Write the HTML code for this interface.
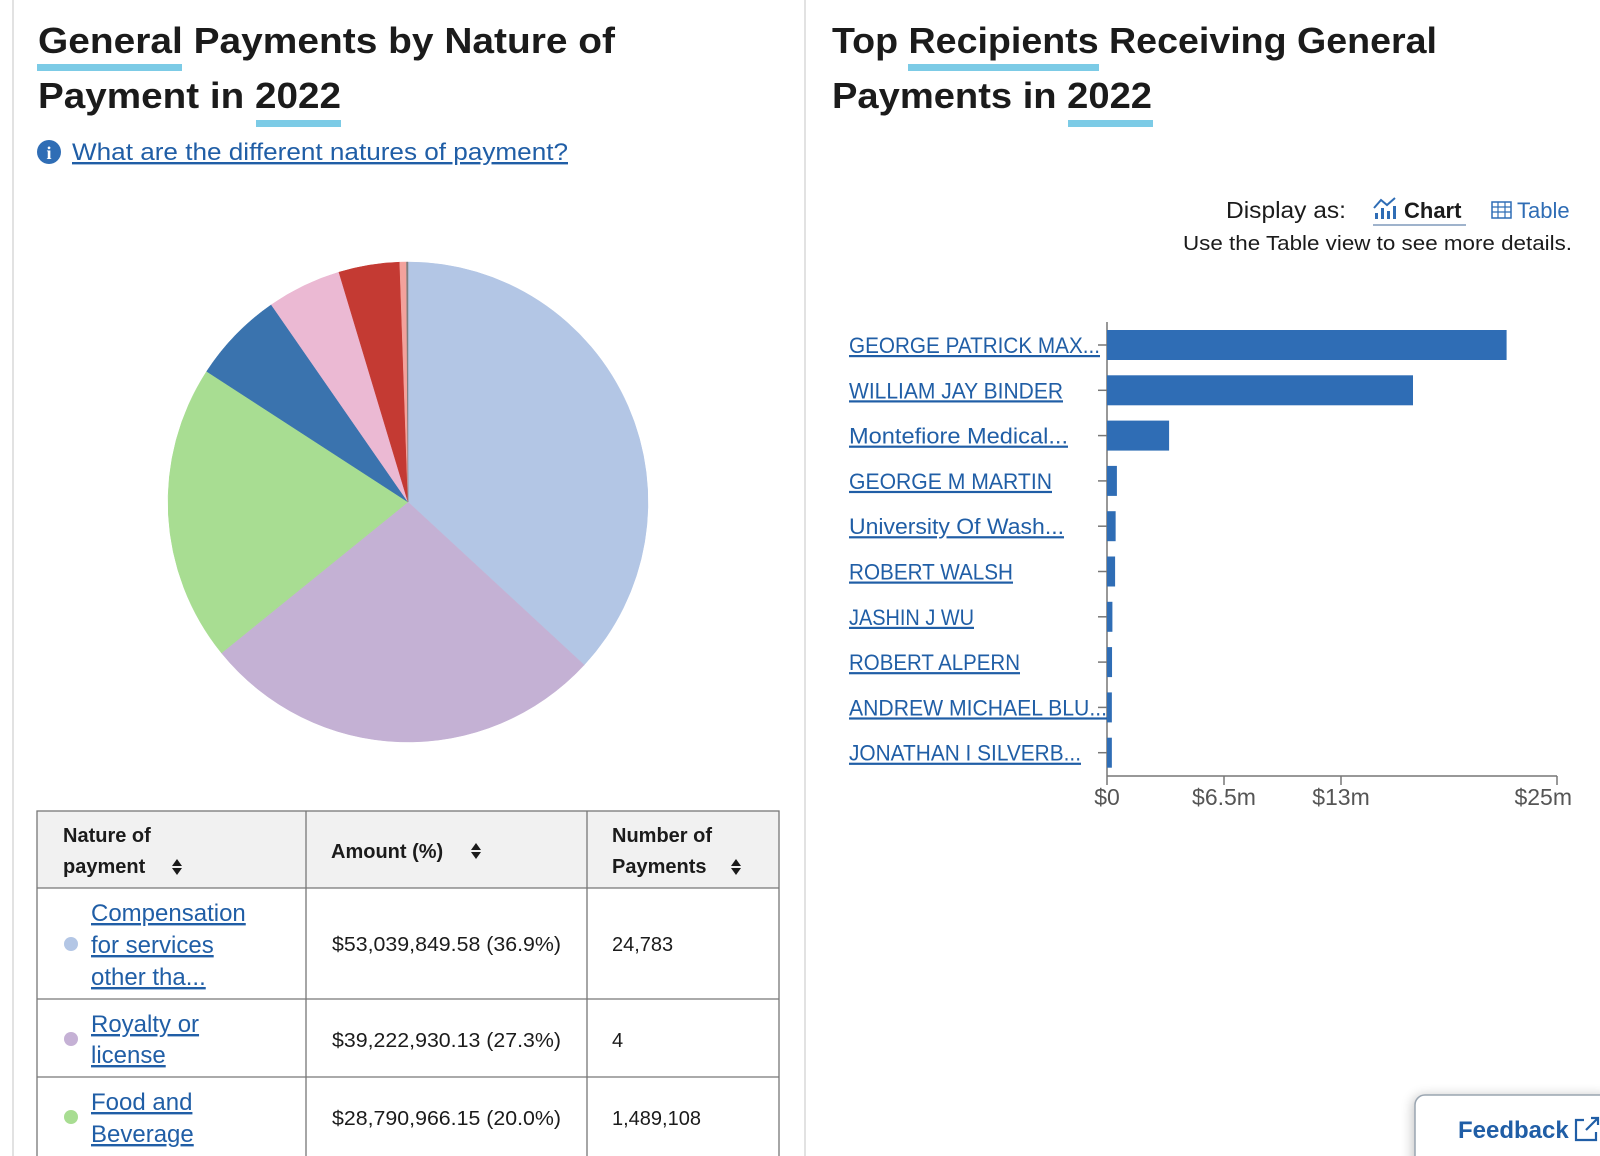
<!DOCTYPE html>
<html><head><meta charset="utf-8">
<style>
html,body{margin:0;padding:0;background:#fff;width:1600px;height:1156px;overflow:hidden;font-family:"Liberation Sans",sans-serif;}
svg{display:block}
.t{font-weight:bold;fill:#1b1b1b;font-size:36px}
.lnk{fill:#205ea6;text-decoration:underline}
.hd{font-weight:bold;fill:#1b1b1b;font-size:20px}
.cell{fill:#1b1b1b;font-size:20px}
</style></head><body>
<svg id="page" width="1600" height="1156" viewBox="0 0 1600 1156">
  <line x1="13" y1="0" x2="13" y2="1156" stroke="#e2e2e2" stroke-width="2"/>
  <line x1="805" y1="0" x2="805" y2="1156" stroke="#e2e2e2" stroke-width="2"/>

  <text class="t" x="38" y="53" textLength="577" lengthAdjust="spacingAndGlyphs">General Payments by Nature of</text>
  <text class="t" x="38" y="108" textLength="303" lengthAdjust="spacingAndGlyphs">Payment in 2022</text>
  <rect x="37" y="64" width="145" height="7" fill="#7ccbe6"/>
  <rect x="256" y="120" width="85" height="7" fill="#7ccbe6"/>
  <g>
    <circle cx="49" cy="152" r="12" fill="#2f6db5"/>
    <text x="49" y="159" fill="#fff" font-size="18" font-weight="bold" text-anchor="middle" font-family="Liberation Serif, serif">i</text>
    <text class="lnk" x="72" y="160" font-size="24" textLength="496" lengthAdjust="spacingAndGlyphs">What are the different natures of payment?</text>
  </g>

  <g id="pie"></g>

  <g>
    <rect x="37" y="811" width="742" height="77" fill="#f1f1f1"/>
    <rect x="37" y="811" width="742" height="360" fill="none" stroke="#777" stroke-width="1.3"/>
    <line x1="37" y1="888" x2="779" y2="888" stroke="#777" stroke-width="1.3"/>
    <line x1="37" y1="999" x2="779" y2="999" stroke="#777" stroke-width="1.3"/>
    <line x1="37" y1="1077" x2="779" y2="1077" stroke="#777" stroke-width="1.3"/>
    <line x1="306" y1="811" x2="306" y2="1156" stroke="#777" stroke-width="1.3"/>
    <line x1="587" y1="811" x2="587" y2="1156" stroke="#777" stroke-width="1.3"/>
    <g>
      <text class="hd" x="63" y="842">Nature of</text>
      <text class="hd" x="63" y="873">payment</text>
      <path d="M172 866 l5 -7 l5 7 z M172 868 l5 7 l5 -7 z" fill="#1b1b1b"/>
    </g>
    <g>
      <text class="hd" x="331" y="858">Amount (%)</text>
      <path d="M471 850 l5 -7 l5 7 z M471 852 l5 7 l5 -7 z" fill="#1b1b1b"/>
    </g>
    <g>
      <text class="hd" x="612" y="842">Number of</text>
      <text class="hd" x="612" y="873">Payments</text>
      <path d="M731 866 l5 -7 l5 7 z M731 868 l5 7 l5 -7 z" fill="#1b1b1b"/>
    </g>
    <g>
      <circle cx="71" cy="944" r="7" fill="#b3c6e5"/>
      <text class="lnk" font-size="24" x="91" y="921">Compensation</text>
      <text class="lnk" font-size="24" x="91" y="953">for services</text>
      <text class="lnk" font-size="24" x="91" y="985">other tha...</text>
      <text class="cell" x="332" y="951" textLength="229" lengthAdjust="spacingAndGlyphs">$53,039,849.58 (36.9%)</text>
      <text class="cell" x="612" y="951">24,783</text>
    </g>
    <g>
      <circle cx="71" cy="1039" r="7" fill="#c5b1d5"/>
      <text class="lnk" font-size="24" x="91" y="1032">Royalty or</text>
      <text class="lnk" font-size="24" x="91" y="1063">license</text>
      <text class="cell" x="332" y="1047" textLength="229" lengthAdjust="spacingAndGlyphs">$39,222,930.13 (27.3%)</text>
      <text class="cell" x="612" y="1047">4</text>
    </g>
    <g>
      <circle cx="71" cy="1117" r="7" fill="#a8dd92"/>
      <text class="lnk" font-size="24" x="91" y="1110">Food and</text>
      <text class="lnk" font-size="24" x="91" y="1142">Beverage</text>
      <text class="cell" x="332" y="1125" textLength="229" lengthAdjust="spacingAndGlyphs">$28,790,966.15 (20.0%)</text>
      <text class="cell" x="612" y="1125">1,489,108</text>
    </g>
  </g>

  <text class="t" x="832" y="53" textLength="605" lengthAdjust="spacingAndGlyphs">Top Recipients Receiving General</text>
  <text class="t" x="832" y="108" textLength="320" lengthAdjust="spacingAndGlyphs">Payments in 2022</text>
  <rect x="908" y="64" width="191" height="7" fill="#7ccbe6"/>
  <rect x="1068" y="120" width="85" height="7" fill="#7ccbe6"/>

  <text x="1346" y="218" font-size="23" fill="#1b1b1b" text-anchor="end" textLength="120" lengthAdjust="spacingAndGlyphs">Display as:</text>
  <g>
    <g fill="#2f6db5"><rect x="1375" y="213" width="3" height="6"/><rect x="1381" y="208" width="3" height="11"/><rect x="1387" y="211" width="3" height="8"/><rect x="1393" y="206" width="3" height="13"/></g>
    <polyline points="1374,208 1381,200 1387,205 1395,198" fill="none" stroke="#2f6db5" stroke-width="2"/>
    <text x="1404" y="218" font-size="22" font-weight="bold" fill="#1b1b1b">Chart</text>
    <rect x="1373" y="224" width="93" height="2" fill="#9fb3cc"/>
  </g>
  <g>
    <rect x="1492" y="202" width="19" height="16" fill="none" stroke="#2f6db5" stroke-width="1.5"/>
    <path d="M1492 207h19M1492 212h19M1498 202v16M1505 202v16" stroke="#2f6db5" stroke-width="1.2"/>
    <text x="1517" y="218" font-size="22" fill="#2f6db5">Table</text>
  </g>
  <text x="1183" y="250" font-size="20" fill="#1b1b1b" textLength="389" lengthAdjust="spacingAndGlyphs">Use the Table view to see more details.</text>

  <g id="bars"></g>

  <g>
    <defs><filter id="sh" x="-20%" y="-40%" width="140%" height="180%"><feGaussianBlur stdDeviation="6"/></filter></defs>
    <rect x="1413" y="1096" width="200" height="80" rx="10" fill="#000" opacity="0.25" filter="url(#sh)"/>
    <rect x="1415" y="1095" width="200" height="80" rx="10" fill="#fff" stroke="#9aa5b1" stroke-width="1.5"/>
    <text x="1458" y="1138" font-size="24" font-weight="bold" fill="#205ea6">Feedback</text>
    <path d="M1584 1120 h-8 v20 h20 v-8 M1586 1130 l12 -12 M1591 1118 h7 v7" fill="none" stroke="#205ea6" stroke-width="2.2"/>
  </g>
</svg>
<script>
const pieLabels = ["Compensation for services other than consulting","Royalty or license","Food and Beverage","Consulting Fee","Travel and Lodging","Education","Honoraria","Other"];
const pieValues = [36.9, 27.3, 20.0, 6.2, 5.0, 4.1, 0.45, 0.1];
const pieColors = ["#b3c6e5","#c4b1d4","#a8dd92","#3a73ae","#ebb9d3","#c43a33","#f3a29c","#7f7f7f"];

const barNames = ["GEORGE PATRICK MAX...","WILLIAM JAY BINDER","Montefiore Medical...","GEORGE M MARTIN","University Of Wash...","ROBERT WALSH","JASHIN J WU","ROBERT ALPERN","ANDREW MICHAEL BLU...","JONATHAN I SILVERB..."];
const barValues = [22.2, 17.0, 3.45, 0.55, 0.48, 0.45, 0.3, 0.28, 0.27, 0.27];
const tickValues = [0, 6.5, 13, 25];
const tickLabels = ["$0","$6.5m","$13m","$25m"];

const NS = "http://www.w3.org/2000/svg";
function mk(tag, attrs, parent){const e=document.createElementNS(NS,tag);for(const k in attrs)e.setAttribute(k,attrs[k]);parent.appendChild(e);return e;}

const pie = document.getElementById("pie");
const cx=408, cy=502, R=240;
const total = pieValues.reduce((a,b)=>a+b,0);
let acc=0;
pieValues.forEach((v,i)=>{
  const a0 = acc/total*2*Math.PI; acc+=v; const a1 = acc/total*2*Math.PI;
  const x0=cx+R*Math.sin(a0), y0=cy-R*Math.cos(a0), x1=cx+R*Math.sin(a1), y1=cy-R*Math.cos(a1);
  const large = (a1-a0)>Math.PI?1:0;
  const p = mk("path",{d:`M${cx},${cy} L${x0},${y0} A${R},${R} 0 ${large} 1 ${x1},${y1} Z`,fill:pieColors[i],stroke:pieColors[i],"stroke-width":0.5},pie);
  
  
});

const bars = document.getElementById("bars");
const x0=1107, pxPer=18, yFirst=345, step=45.3, bh=30;
const xs = v => x0 + v*pxPer;
const ys = i => yFirst + i*step;
const axisY = 776;
const yAxis = mk("line",{x1:x0,y1:322,x2:x0,y2:axisY,stroke:"#777","stroke-width":1.5},bars);


const xAxis = mk("line",{x1:x0,y1:axisY,x2:xs(25),y2:axisY,stroke:"#777","stroke-width":1.5},bars);


const labelW = [251,214,219,203,215,164,125,171,258,232];
barValues.forEach((v,i)=>{
  const y = ys(i);
  const r = mk("rect",{x:x0,y:y-bh/2,width:xs(v)-x0,height:bh,fill:"#2f6db5"},bars);
  
  
  mk("line",{x1:x0-9,y1:y,x2:x0,y2:y,stroke:"#777","stroke-width":1.5},bars);
  const t = mk("text",{x:849,y:y+8,"font-size":22,class:"lnk",textLength:labelW[i],lengthAdjust:"spacingAndGlyphs"},bars);
  t.textContent = barNames[i];
  
  
});
tickValues.forEach((v,i)=>{
  const x = xs(v);
  mk("line",{x1:x,y1:axisY,x2:x,y2:axisY+9,stroke:"#777","stroke-width":1.5},bars);
  const last = i===tickValues.length-1;
  const t = mk("text",{x:last?1572:x,y:805,"font-size":23,fill:"#555","text-anchor":last?"end":"middle"},bars);
  t.textContent = tickLabels[i];
  
  
});
</script>
</body></html>
